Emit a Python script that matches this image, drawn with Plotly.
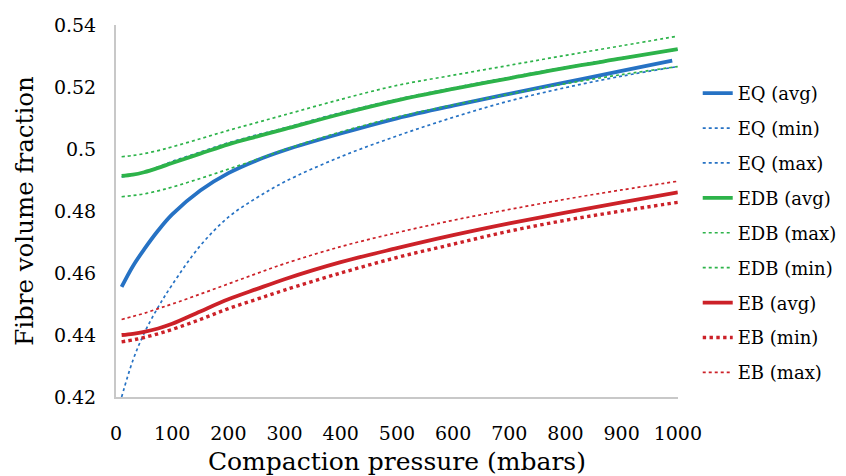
import plotly.graph_objects as go

pressure = [10, 30, 50, 75, 100, 150, 200, 250, 300, 400, 500, 600, 700, 800, 900, 1000]
pressure_eq_avg = [10, 30, 50, 75, 100, 150, 200, 250, 300, 400, 500, 600, 700, 800, 900, 990]

eq_avg = [0.4555, 0.4622, 0.4676, 0.4737, 0.4789, 0.4866, 0.4922, 0.4963, 0.4996, 0.5050, 0.5099, 0.5140, 0.5178, 0.5215, 0.5252, 0.5285]
eq_min = [0.4200, 0.4318, 0.4405, 0.4490, 0.4562, 0.4688, 0.4780, 0.4842, 0.4894, 0.4975, 0.5042, 0.5102, 0.5155, 0.5198, 0.5235, 0.5266]
eq_max = [0.4910, 0.4916, 0.4926, 0.4942, 0.4960, 0.4990, 0.5020, 0.5045, 0.5068, 0.5117, 0.5160, 0.5197, 0.5231, 0.5264, 0.5294, 0.5320]
edb_avg = [0.4913, 0.4917, 0.4925, 0.4939, 0.4955, 0.4985, 0.5015, 0.5040, 0.5064, 0.5113, 0.5157, 0.5194, 0.5228, 0.5262, 0.5292, 0.5322]
edb_max = [0.4975, 0.4979, 0.4985, 0.4995, 0.5007, 0.5033, 0.5060, 0.5085, 0.5110, 0.5160, 0.5205, 0.5238, 0.5270, 0.5302, 0.5333, 0.5364]
edb_min = [0.4846, 0.4850, 0.4855, 0.4865, 0.4877, 0.4905, 0.4935, 0.4966, 0.4998, 0.5055, 0.5103, 0.5142, 0.5177, 0.5211, 0.5240, 0.5266]
eb_avg = [0.4400, 0.4404, 0.4410, 0.4421, 0.4436, 0.4476, 0.4515, 0.4548, 0.4580, 0.4635, 0.4680, 0.4722, 0.4760, 0.4795, 0.4828, 0.4860]
eb_min = [0.4378, 0.4384, 0.4392, 0.4404, 0.4418, 0.4450, 0.4485, 0.4515, 0.4545, 0.4600, 0.4650, 0.4693, 0.4735, 0.4770, 0.4800, 0.4828]
eb_max = [0.4450, 0.4460, 0.4470, 0.4485, 0.4500, 0.4532, 0.4565, 0.4598, 0.4630, 0.4685, 0.4730, 0.4770, 0.4805, 0.4838, 0.4868, 0.4896]

series_names = ["EQ (avg)", "EQ (min)", "EQ (max)", "EDB (avg)", "EDB (max)", "EDB (min)", "EB (avg)", "EB (min)", "EB (max)"]
series_values = [eq_avg, eq_min, eq_max, edb_avg, edb_max, edb_min, eb_avg, eb_min, eb_max]
series_x = [pressure_eq_avg] + [pressure] * 8

y_ticks = [0.42, 0.44, 0.46, 0.48, 0.50, 0.52, 0.54]
y_tick_labels = ["0.42", "0.44", "0.46", "0.48", "0.5", "0.52", "0.54"]
x_ticks = [0, 100, 200, 300, 400, 500, 600, 700, 800, 900, 1000]
x_tick_labels = ["0", "100", "200", "300", "400", "500", "600", "700", "800", "900", "1000"]

BLUE = "#2672c4"
GREEN = "#2db34a"
RED = "#cc2128"
styles = [
    (BLUE, 3.8, "solid"), (BLUE, 1.7, "dot"), (BLUE, 1.7, "dot"),
    (GREEN, 3.8, "solid"), (GREEN, 1.7, "dot"), (GREEN, 1.7, "dot"),
    (RED, 3.8, "solid"), (RED, 3.4, "dot"), (RED, 1.7, "dot"),
]

FONT = "DejaVu Serif"
TXT = "#000000"
fig = go.Figure()
for i, (name, xs, vals) in enumerate(zip(series_names, series_x, series_values)):
    color, width, dash = styles[i]
    fig.add_trace(go.Scatter(
        x=xs, y=vals, name=name, mode="lines",
        line=dict(color=color, width=width, dash=dash, shape="spline", smoothing=1.0),
        legendgroup=f"g{i}",
    ))

fig.update_layout(
    width=846, height=468,
    margin=dict(l=108, r=16, t=17, b=79),
    paper_bgcolor="white", plot_bgcolor="white",
    font=dict(family=FONT, color=TXT, size=18),
    showlegend=True,
    legend=dict(
        x=0.8102, xanchor="left", y=0.8657, yanchor="top",
        font=dict(family=FONT, size=18, color=TXT),
        tracegroupgap=8.5, bgcolor="rgba(0,0,0,0)",
    ),
    xaxis=dict(
        domain=[0, 0.7825], automargin=False,
        range=[0, 1000], tickvals=x_ticks, ticktext=x_tick_labels,
        showgrid=False, zeroline=False, showline=True, linecolor="#c8c8c8", linewidth=2,
        ticks="", ticklabelstandoff=18,
        tickfont=dict(family=FONT, size=19, color=TXT),
        title=dict(text="Compaction pressure (mbars)", font=dict(family=FONT, size=25, color=TXT), standoff=16),
    ),
    yaxis=dict(
        automargin=False,
        range=[0.42, 0.54], tickvals=y_ticks, ticktext=y_tick_labels,
        showgrid=False, zeroline=False, showline=True, linecolor="#c8c8c8", linewidth=2,
        ticks="", ticklabelstandoff=14,
        tickfont=dict(family=FONT, size=19, color=TXT),
        title=dict(text="Fibre volume fraction", font=dict(family=FONT, size=24.5, color=TXT), standoff=13),
    ),
)

fig.write_html("out.html")
